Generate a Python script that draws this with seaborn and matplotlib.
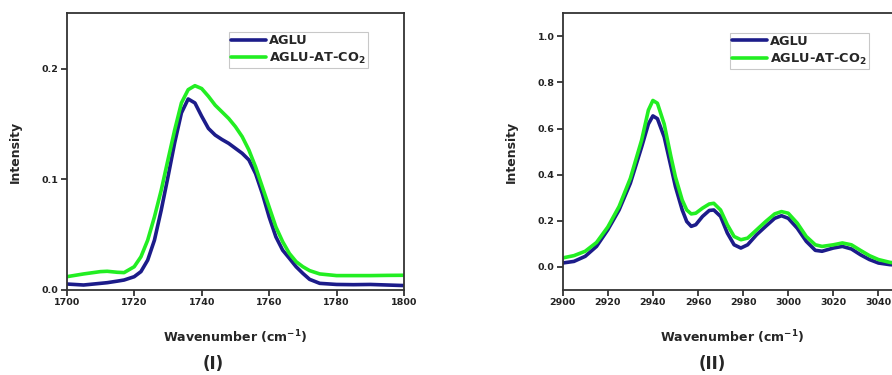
import numpy as np
import pandas as pd
import matplotlib
matplotlib.use("Agg")
import matplotlib.pyplot as plt
import seaborn as sns

# C=O stretching region (panel I)
wn_co = [1700, 1705, 1710, 1712, 1715, 1717, 1720, 1722, 1724, 1726, 1728, 1730, 1732, 1734,
         1736, 1738, 1740, 1742, 1744, 1746, 1748, 1750, 1752, 1754, 1756, 1758, 1760, 1762,
         1764, 1766, 1768, 1770, 1772, 1775, 1780, 1785, 1790, 1795, 1800]
aglu_co = [0.0054, 0.0045, 0.0060, 0.0066, 0.0080, 0.0090, 0.0120, 0.0166, 0.0270, 0.0450,
           0.0720, 0.1020, 0.1330, 0.1600, 0.1726, 0.1690, 0.1570, 0.1460, 0.1400, 0.1360,
           0.1325, 0.1280, 0.1235, 0.1175, 0.1050, 0.0870, 0.0660, 0.0480, 0.0360, 0.0286,
           0.0210, 0.0150, 0.0096, 0.0060, 0.0050, 0.0048, 0.0050, 0.0045, 0.0040]
aglu_co2_co = [0.0120, 0.0145, 0.0166, 0.0169, 0.0160, 0.0157, 0.0210, 0.0300, 0.0450, 0.0660,
               0.0900, 0.1175, 0.1446, 0.1690, 0.1810, 0.1846, 0.1820, 0.1750, 0.1670, 0.1610,
               0.1550, 0.1476, 0.1386, 0.1265, 0.1110, 0.0930, 0.0750, 0.0570, 0.0437, 0.0330,
               0.0256, 0.0210, 0.0175, 0.0145, 0.0130, 0.0130, 0.0130, 0.0132, 0.0133]

# C-H stretching region (panel II)
wn_ch = [2900, 2905, 2910, 2915, 2920, 2925, 2930, 2935, 2938, 2940, 2942, 2945, 2948, 2950,
         2953, 2955, 2957, 2959, 2962, 2965, 2967, 2970, 2973, 2976, 2979, 2982, 2986, 2990,
         2994, 2997, 3000, 3004, 3008, 3012, 3015, 3020, 3024, 3028, 3032, 3036, 3040, 3045, 3050]
aglu_ch = [0.017, 0.024, 0.046, 0.089, 0.161, 0.247, 0.363, 0.520, 0.620, 0.655, 0.643, 0.564,
           0.435, 0.348, 0.247, 0.197, 0.176, 0.183, 0.219, 0.245, 0.247, 0.219, 0.147, 0.096,
           0.082, 0.096, 0.140, 0.176, 0.211, 0.222, 0.211, 0.168, 0.111, 0.072, 0.068, 0.082,
           0.089, 0.078, 0.053, 0.032, 0.017, 0.010, 0.007]
aglu_co2_ch = [0.039, 0.049, 0.068, 0.106, 0.173, 0.262, 0.384, 0.550, 0.680, 0.722, 0.710, 0.620,
               0.478, 0.390, 0.290, 0.247, 0.230, 0.233, 0.255, 0.273, 0.276, 0.247, 0.183, 0.132,
               0.118, 0.125, 0.161, 0.197, 0.230, 0.240, 0.233, 0.190, 0.132, 0.096, 0.089, 0.096,
               0.104, 0.096, 0.072, 0.049, 0.032, 0.020, 0.014]

series_names = ["AGLU", "AGLU-AT-CO$_{\\mathbf{2}}$"]
colors = ["#1c1c8a", "#22ee22"]

sns.set_style("white")
plt.rcParams["font.family"] = ["DejaVu Sans"]
plt.rcParams["font.weight"] = "bold"
plt.rcParams["mathtext.default"] = "bf"


def long_frame(x, a, b):
    return pd.DataFrame({
        "x": list(x) + list(x),
        "y": list(a) + list(b),
        "series": [series_names[0]] * len(x) + [series_names[1]] * len(x),
    })


fig = plt.figure(figsize=(8.92, 3.75), dpi=100)
ax1 = fig.add_axes([0.0748, 0.2267, 0.3782, 0.7378])
ax2 = fig.add_axes([0.6308, 0.2267, 0.3793, 0.7378])

panels = [
    (ax1, long_frame(wn_co, aglu_co, aglu_co2_co), (1700, 1800), (0, 0.25),
     np.arange(1700, 1801, 20), [0.0, 0.1, 0.2], (0.481, 0.932)),
    (ax2, long_frame(wn_ch, aglu_ch, aglu_co2_ch), (2900, 3050), (-0.1, 1.1),
     np.arange(2900, 3041, 20), [0.0, 0.2, 0.4, 0.6, 0.8, 1.0], (0.4945, 0.929)),
]

for ax, df, xl, yl, xt, yt, leg_anchor in panels:
    sns.lineplot(data=df, x="x", y="y", hue="series", palette=colors,
                 linewidth=2.6, ax=ax, sort=False)
    ax.set_xlim(*xl)
    ax.set_ylim(*yl)
    ax.set_xticks(xt)
    ax.set_yticks(yt)
    ax.set_yticklabels([f"{v:.1f}" for v in yt])
    ax.tick_params(axis="both", direction="out", length=4, width=1.2,
                   labelsize=6.8, colors="#222222", bottom=True, left=True, pad=2)
    for lab in ax.get_xticklabels() + ax.get_yticklabels():
        lab.set_fontweight("bold")
    for s in ax.spines.values():
        s.set_color("#333333")
        s.set_linewidth(1.3)
    ax.set_xlabel("Wavenumber (cm$^{\\mathbf{-1}}$)", fontsize=9,
                  fontweight="bold", labelpad=15)
    ax.set_ylabel("Intensity", fontsize=9, fontweight="bold", labelpad=14)
    leg = ax.legend(loc="upper left", bbox_to_anchor=leg_anchor,
                    frameon=True, fancybox=False, fontsize=9.3, handlelength=2.7,
                    borderpad=0.15, labelspacing=0.3, handletextpad=0.25,
                    borderaxespad=0)
    leg.get_frame().set_edgecolor("#bbbbbb")
    leg.get_frame().set_linewidth(0.8)
    for t in leg.get_texts():
        t.set_fontweight("bold")
    for h in leg.get_lines():
        h.set_linewidth(2.6)

fig.text(0.239, 0.029, "(I)", ha="center", va="center", fontsize=12, fontweight="bold")
fig.text(0.798, 0.029, "(II)", ha="center", va="center", fontsize=12, fontweight="bold")

fig.savefig("out.png", dpi=100)
